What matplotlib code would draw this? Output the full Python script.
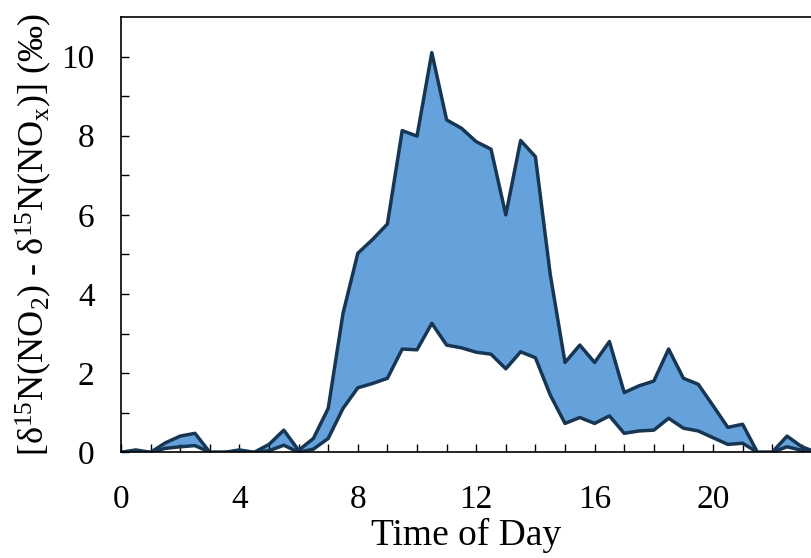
import numpy as np
import matplotlib
matplotlib.use("Agg")
import matplotlib.pyplot as plt

# time of day (hours), sampled every half hour
hours = np.arange(0, 24, 0.5)

upper = [0.00, 0.06, 0.00, 0.24, 0.41, 0.48, 0.00, 0.00, 0.06, 0.00,
         0.20, 0.56, 0.05, 0.35, 1.11, 3.51, 5.03, 5.38, 5.77, 8.13,
         7.99, 10.10, 8.40, 8.19, 7.85, 7.66, 6.00, 7.88, 7.47, 4.50,
         2.27, 2.71, 2.27, 2.80, 1.51, 1.68, 1.80, 2.61, 1.87, 1.72,
         1.18, 0.63, 0.71, 0.00, 0.00, 0.41, 0.14, 0.00]

lower = [0.00, 0.02, 0.00, 0.10, 0.14, 0.17, 0.00, 0.00, 0.03, 0.00,
         0.04, 0.18, 0.00, 0.08, 0.35, 1.11, 1.63, 1.74, 1.87, 2.61,
         2.59, 3.26, 2.71, 2.64, 2.53, 2.48, 2.11, 2.54, 2.39, 1.45,
         0.73, 0.88, 0.73, 0.92, 0.48, 0.54, 0.56, 0.86, 0.61, 0.54,
         0.37, 0.20, 0.23, 0.00, 0.00, 0.14, 0.05, 0.00]

x_ticks = [0, 4, 8, 12, 16, 20]
y_ticks = [0, 2, 4, 6, 8, 10]


def main():
    plt.rcParams["font.family"] = ["Liberation Serif", "DejaVu Serif"]
    plt.rcParams["mathtext.fontset"] = "custom"
    plt.rcParams["mathtext.rm"] = "Liberation Serif"
    plt.rcParams["mathtext.it"] = "Liberation Serif:italic"

    fig = plt.figure(figsize=(8.11, 5.58), dpi=100)
    ax = fig.add_axes([0.1492, 0.1894, 0.8508, 0.7801])

    fill_color = "#65a2dc"
    edge_color = "#173653"
    ax.fill_between(hours, lower, upper, color=fill_color, linewidth=0)
    ax.plot(hours, upper, color=edge_color, linewidth=2.5)
    ax.plot(hours, lower, color=edge_color, linewidth=2.5)

    ax.set_xlim(0, 23.31)
    ax.set_ylim(0, 11)
    ax.set_xticks(x_ticks)
    ax.set_xticks(range(0, 24), minor=True)
    ax.set_yticks(y_ticks)
    ax.set_yticks(range(0, 11), minor=True)
    ax.tick_params(which="both", direction="in", length=6, width=1,
                   labelsize=24, top=False, right=False)
    ax.tick_params(axis="x", pad=23)
    ax.tick_params(axis="y", pad=19)
    ax.spines["right"].set_visible(False)
    for s in ["left", "bottom", "top"]:
        ax.spines[s].set_linewidth(1.2)

    ax.set_xlabel("Time of Day", fontsize=27, labelpad=2)
    ax.set_ylabel(r"[δ$^{15}$N(NO$_2$) - δ$^{15}$N(NO$_\mathrm{x}$)] (‰)",
                  fontsize=26, labelpad=5)

    fig.savefig("out.png", dpi=100)
    return 0


if __name__ == "__main__":
    main()
